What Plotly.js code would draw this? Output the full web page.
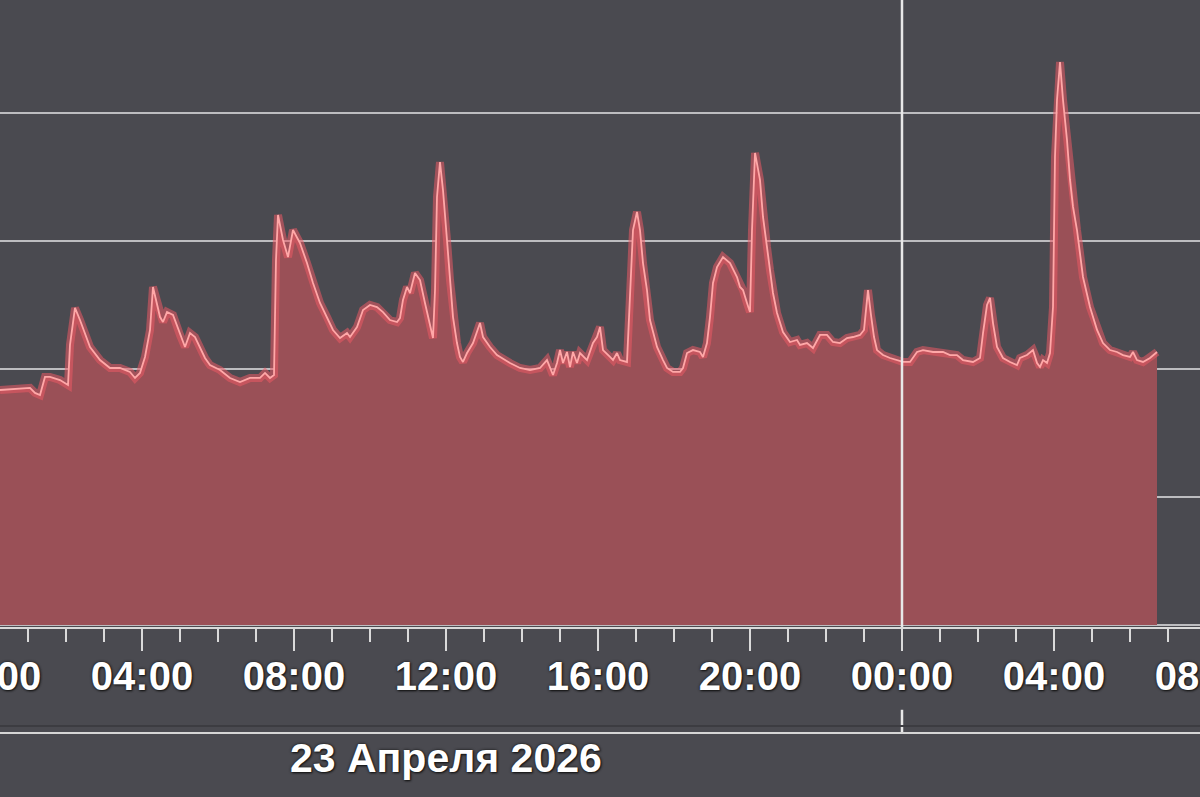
<!DOCTYPE html>
<html>
<head>
<meta charset="utf-8">
<script src="https://cdn.plot.ly/plotly-3.0.1.min.js"></script>
<style>
  html, body { margin: 0; padding: 0; background: #4a4a50; overflow: hidden; width: 1200px; height: 797px; }
  #chart { position: absolute; left: -20px; top: 0; width: 1240px; height: 797px; }
</style>
</head>
<body>
<div id="chart"></div>
<script>
// Hours since 23 April 2026 00:00 and the series value (arbitrary units, gridline every 100)
const hours = [0.263,0.658,1.053,1.184,1.316,1.447,1.579,1.842,2.053,2.105,2.237,2.368,2.632,2.895,3.158,3.421,3.684,3.816,3.947,4.079,4.211,4.289,4.474,4.553,4.658,4.816,5.0,5.132,5.263,5.395,5.658,5.789,6.053,6.316,6.579,6.842,7.105,7.237,7.368,7.474,7.526,7.579,7.711,7.842,7.974,8.079,8.158,8.342,8.5,8.684,8.868,9.026,9.211,9.395,9.474,9.658,9.816,10.0,10.184,10.342,10.526,10.711,10.789,10.868,10.974,11.053,11.184,11.316,11.447,11.579,11.658,11.711,11.763,11.842,11.921,12.026,12.105,12.184,12.289,12.368,12.447,12.553,12.711,12.895,12.974,13.158,13.342,13.684,13.947,14.211,14.474,14.658,14.816,14.921,15.0,15.079,15.184,15.263,15.342,15.447,15.526,15.711,15.868,15.974,16.053,16.132,16.316,16.395,16.5,16.579,16.763,16.842,16.921,17.026,17.105,17.184,17.289,17.368,17.553,17.711,17.816,17.974,18.158,18.237,18.342,18.5,18.684,18.763,18.868,18.947,19.026,19.132,19.289,19.474,19.658,19.737,19.816,19.921,20.0,20.053,20.132,20.263,20.342,20.447,20.526,20.605,20.711,20.868,21.053,21.237,21.316,21.5,21.658,21.842,22.026,22.184,22.368,22.553,22.711,22.895,23.0,23.105,23.184,23.263,23.342,23.5,23.684,23.868,24.026,24.211,24.395,24.553,24.816,25.079,25.263,25.447,25.605,25.868,26.053,26.132,26.237,26.316,26.395,26.5,26.658,26.842,27.026,27.105,27.289,27.447,27.553,27.632,27.711,27.816,27.895,27.974,28.026,28.079,28.158,28.237,28.342,28.421,28.5,28.605,28.684,28.763,28.947,29.132,29.289,29.474,29.658,29.816,30.0,30.079,30.184,30.342,30.526,30.711];
const values = [183.6,184.4,185.2,181.3,179.7,193.8,193.8,191.4,187.5,218.8,247.7,238.3,217.2,207.0,200.8,200.8,197.7,193.0,196.9,209.4,230.5,264.1,240.6,236.7,244.5,242.2,226.6,217.2,228.1,225.0,208.6,203.1,199.2,193.0,189.8,193.0,193.0,196.9,193.0,195.3,285.2,320.3,300.8,287.5,308.6,303.1,298.4,282.8,267.2,251.6,240.6,230.5,224.2,228.1,225.0,232.8,246.1,250.0,248.4,244.5,238.3,236.7,239.8,253.9,264.1,259.4,275.0,269.5,251.6,232.8,224.2,261.7,334.4,361.7,339.8,300.8,269.5,240.6,220.3,209.4,205.5,212.5,220.3,235.9,225.0,217.2,210.9,204.7,200.8,199.2,200.8,207.0,195.3,204.7,214.8,204.7,213.3,201.6,213.3,204.7,212.5,207.0,220.3,225.0,232.8,214.8,209.4,207.0,212.5,207.0,205.5,256.3,308.6,322.7,308.6,282.8,261.7,238.3,217.2,207.0,200.8,197.7,197.7,200.8,212.5,214.8,213.3,209.4,220.3,240.6,267.2,279.7,287.5,282.8,271.9,264.1,261.7,251.6,244.5,308.6,368.8,347.7,318.8,295.3,277.3,259.4,243.8,228.9,221.1,222.7,218.8,220.3,216.4,226.6,226.6,221.1,220.3,224.2,225.0,226.6,230.5,261.7,242.2,225.0,214.8,210.9,208.6,207.0,205.5,205.5,213.3,214.8,213.3,213.3,210.9,210.9,207.0,205.5,208.6,228.1,250.0,255.5,235.9,217.2,208.6,205.5,203.1,208.6,210.9,214.8,204.7,201.6,207.0,204.7,212.5,248.4,365.6,410.2,439.8,410.2,378.9,347.7,326.6,308.6,290.6,271.9,248.4,230.5,220.3,214.8,213.3,210.9,209.4,213.3,207.0,205.5,208.6,213.3];
const dayLabel = '23 Апреля 2026';

const HOUR = 3600000;
const t0 = Date.UTC(2026, 3, 23, 0, 0, 0);
const xs = hours.map(h => t0 + h * HOUR);

const labelFont = {family: 'Liberation Sans, Arial, sans-serif', size: 40, color: '#ffffff', weight: 'bold',
  shadow: '0px 0px 3px #151515, 1px 1px 2px #151515'};
const dateFont = Object.assign({}, labelFont, {size: 41});
const axisColor = '#dadada';

const traces = [
  {x: xs, y: values, type: 'scatter', mode: 'lines', fill: 'tozeroy', fillcolor: '#9a5057',
   line: {color: 'rgba(235,90,100,0.55)', width: 8}, hoverinfo: 'skip', showlegend: false},
  {x: xs, y: values, type: 'scatter', mode: 'lines',
   line: {color: '#ffa8a8', width: 1.8}, hoverinfo: 'skip', showlegend: false}
];

const layout = {
  width: 1240, height: 797,
  margin: {l: 0, r: 0, t: 0, b: 170, pad: 0},
  paper_bgcolor: '#4a4a50', plot_bgcolor: '#4a4a50',
  showlegend: false,
  xaxis: {
    type: 'date',
    range: ['2026-04-22 23:44:13', '2026-04-24 08:22:06'],
    showgrid: false, zeroline: false,
    showline: true, linecolor: axisColor, linewidth: 2,
    ticks: 'outside', ticklen: 22, tickwidth: 2, tickcolor: axisColor,
    tick0: '2026-04-23 00:00', dtick: 4 * HOUR, tickformat: '%H:%M',
    tickfont: labelFont, ticklabelstandoff: -9, ticklabeloverflow: 'allow',
    minor: {dtick: HOUR, ticks: 'outside', ticklen: 13, tickwidth: 2, tickcolor: axisColor, showgrid: false}
  },
  yaxis: {
    range: [-1.56, 488.3], showticklabels: false, ticks: '',
    showgrid: true, gridcolor: '#bdbdc0', gridwidth: 2, dtick: 100, tick0: 0,
    zeroline: false, showline: false, fixedrange: true
  },
  shapes: [
    {type: 'line', xref: 'x', yref: 'paper', x0: t0 + 24 * HOUR, x1: t0 + 24 * HOUR, y0: 0, y1: 1,
     line: {color: '#e8e8e8', width: 2.5}},
    {type: 'line', xref: 'x', yref: 'paper', x0: t0 + 24 * HOUR, x1: t0 + 24 * HOUR, y0: -0.132, y1: -0.169,
     line: {color: '#e8e8e8', width: 2.5}},
    {type: 'line', xref: 'paper', yref: 'paper', x0: 0, x1: 1, y0: -0.158, y1: -0.158,
     line: {color: '#3c3c41', width: 2}},
    {type: 'line', xref: 'paper', yref: 'paper', x0: 0, x1: 1, y0: -0.169, y1: -0.169,
     line: {color: '#d6d6d6', width: 2}}
  ],
  annotations: [
    {x: t0 + 12 * HOUR, xref: 'x', y: -0.209, yref: 'paper', text: dayLabel, showarrow: false,
     xanchor: 'center', yanchor: 'middle', font: dateFont}
  ]
};

Plotly.newPlot('chart', traces, layout, {staticPlot: true, displayModeBar: false});
</script>
</body>
</html>
